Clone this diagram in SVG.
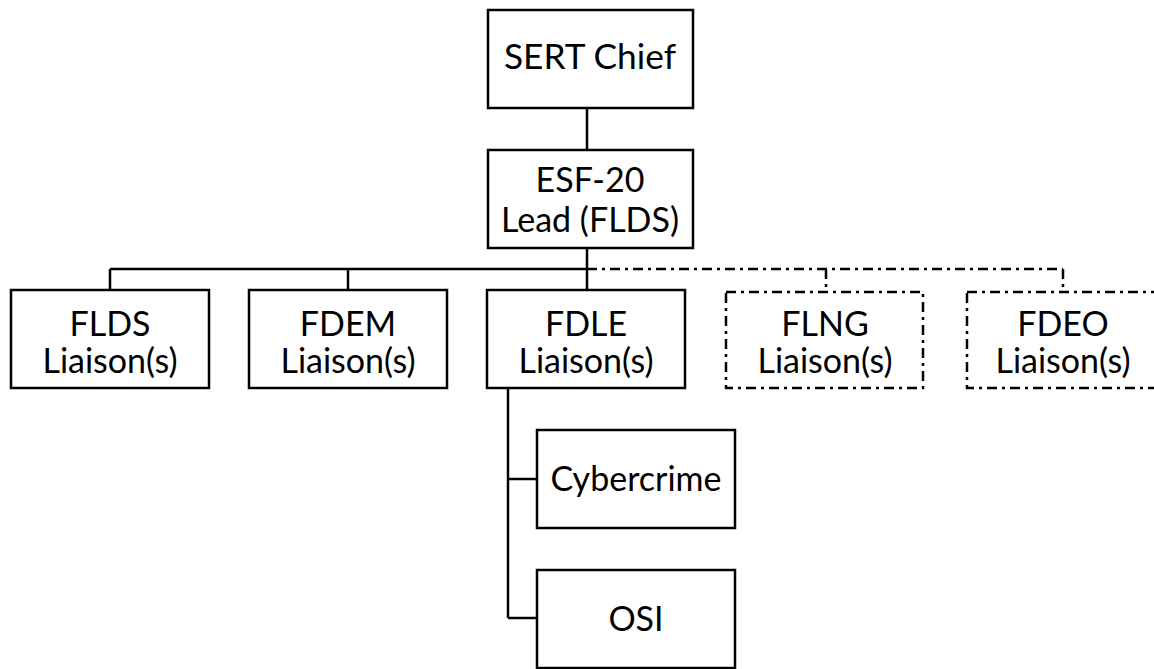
<svg xmlns="http://www.w3.org/2000/svg" width="1154" height="669" viewBox="0 0 1154 669">
<style>
.box{fill:#fff;stroke:#000;stroke-width:2.5}
.dbox{fill:#fff;stroke:#000;stroke-width:2.5;stroke-dasharray:10 5 3 5}
.ln{fill:none;stroke:#000;stroke-width:2.5}
.dln{fill:none;stroke:#000;stroke-width:2.5;stroke-dasharray:10 5 3 5}
text{font-family:Lato,"Liberation Sans",sans-serif;font-size:34px;fill:#000;text-anchor:middle}
</style>
<rect width="1154" height="669" fill="#fff"/>
<g id="connectors">
<path class="ln" d="M587 108V150M587 248V269M110 269H587M110 269V290M348 269V290M587 269V290"/>
<path class="dln" d="M587 269H1063M826 269V292M1063 269V292"/>
<path class="ln" d="M508 388V618M508 479H537M508 618H537"/>
</g>
<g id="sert"><rect class="box" x="488" y="10" width="205" height="98"/><text x="590" y="69" textLength="172" lengthAdjust="spacingAndGlyphs">SERT Chief</text></g>
<g id="esf"><rect class="box" x="488" y="150" width="205" height="98"/><text x="590" y="192">ESF-20</text><text x="590" y="232">Lead (FLDS)</text></g>
<g id="flds"><rect class="box" x="11" y="290" width="198" height="98"/><text x="110" y="336">FLDS</text><text x="110" y="373">Liaison(s)</text></g>
<g id="fdem"><rect class="box" x="249" y="290" width="198" height="98"/><text x="348" y="336">FDEM</text><text x="348" y="373">Liaison(s)</text></g>
<g id="fdle"><rect class="box" x="487" y="290" width="198" height="98"/><text x="586" y="336">FDLE</text><text x="586" y="373">Liaison(s)</text></g>
<g id="flng"><rect class="dbox" x="726" y="292" width="197" height="96"/><text x="825" y="336">FLNG</text><text x="825" y="373">Liaison(s)</text></g>
<g id="fdeo"><rect class="dbox" x="967" y="292" width="197" height="96"/><text x="1063" y="336">FDEO</text><text x="1063" y="373">Liaison(s)</text></g>
<g id="cyber"><rect class="box" x="537" y="430" width="198" height="98"/><text x="636" y="491">Cybercrime</text></g>
<g id="osi"><rect class="box" x="537" y="570" width="198" height="98"/><text x="636" y="631">OSI</text></g>
</svg>
